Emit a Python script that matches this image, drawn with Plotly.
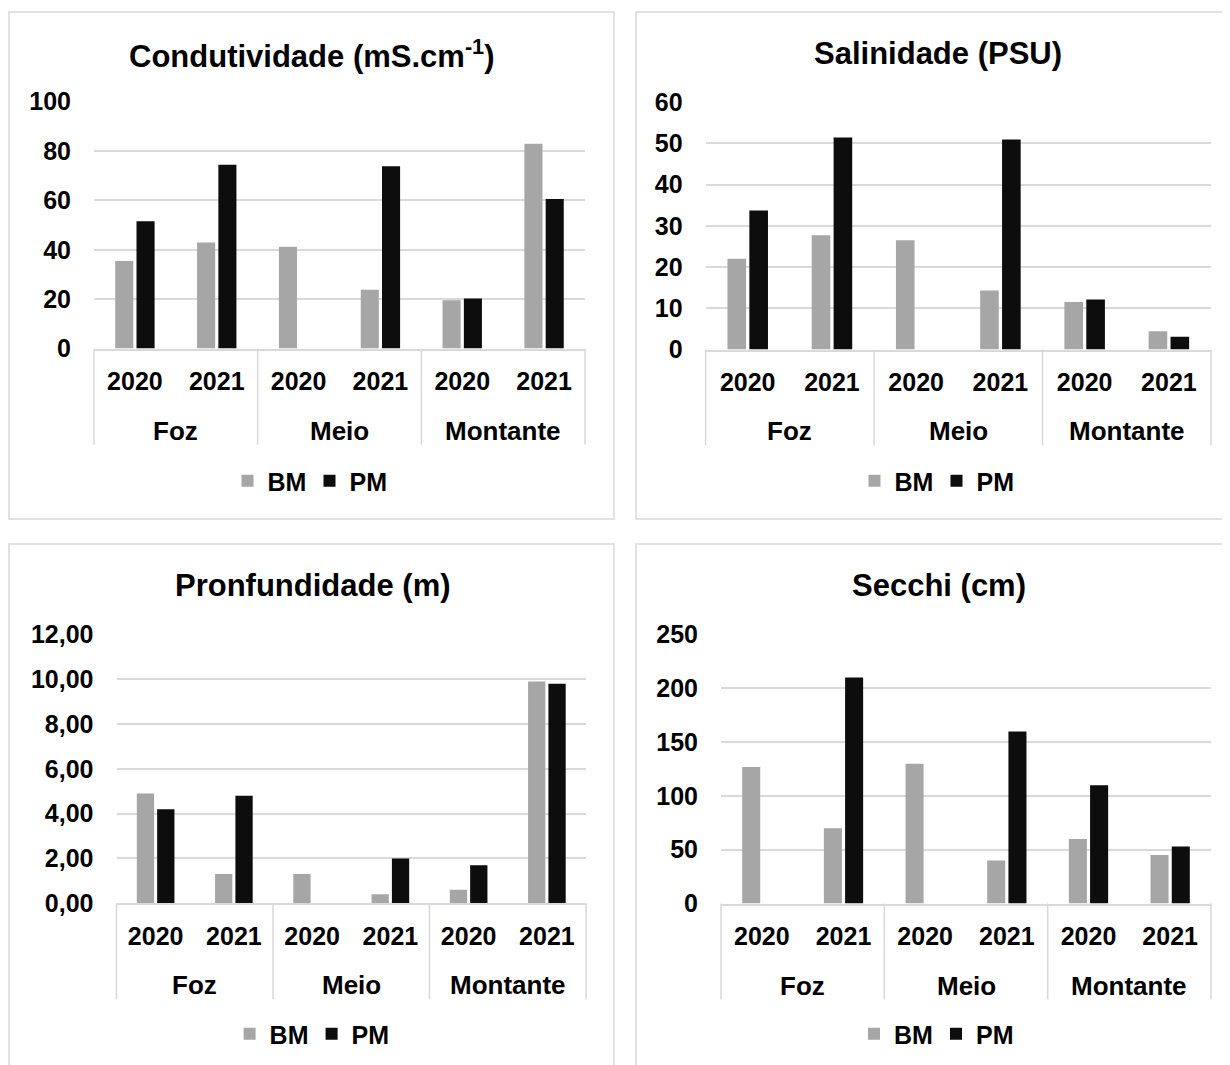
import plotly.graph_objects as go

# ---------------- data ----------------
groups = ["Foz", "Meio", "Montante"]
years = ["2020", "2021", "2020", "2021", "2020", "2021"]
series_names = ["BM", "PM"]

cond_bm = [35.5, 43.0, 41.2, 23.8, 19.6, 83.0]
cond_pm = [51.6, 74.5, None, 73.8, 20.3, 60.6]

sal_bm = [22.0, 27.7, 26.5, 14.3, 11.5, 4.4]
sal_pm = [33.7, 51.4, None, 50.9, 12.1, 3.1]

prof_bm = [4.9, 1.3, 1.3, 0.4, 0.6, 9.9]
prof_pm = [4.2, 4.8, None, 2.0, 1.7, 9.8]

secchi_bm = [127, 70, 130, 40, 60, 45]
secchi_pm = [None, 210, None, 160, 110, 53]

titles = ["Condutividade (mS.cm<sup>-1</sup>)", "Salinidade (PSU)",
          "Pronfundidade (m)", "Secchi (cm)"]
yranges = [(0, 100, 20, ""), (0, 60, 10, ""), (0, 12, 2, ".2f"), (0, 250, 50, "")]

# ---------------- style ----------------
W, H = 1230, 1065
OFF = 8  # page body margin compensation
FONT = "Liberation Sans, Arial, sans-serif"
GRID = "#d9d9d9"
C_BM = "#a6a6a6"
C_PM = "#0d0d0d"

# panel geometry in pixels: plot-area (x0, x1, ytop, ybottom), title center, legend center
panels = [
    dict(px=(94, 585), py=(101.7, 348.5), title=(311.5, 54), leg=(309.5, 481)),
    dict(px=(705.6, 1211), py=(102, 349.5), title=(938, 54), leg=(936.5, 481)),
    dict(px=(116.5, 586), py=(634.6, 903.2), title=(313, 585), leg=(311.6, 1034)),
    dict(px=(721, 1211), py=(634.6, 903.5), title=(938.7, 585), leg=(936, 1034)),
]
boxes = [(9, 614, 12, 519), (636, 1250, 12, 519), (9, 614, 544, 1090), (636, 1250, 544, 1090)]

data = [(cond_bm, cond_pm), (sal_bm, sal_pm), (prof_bm, prof_pm), (secchi_bm, secchi_pm)]


def fx(p):
    return (p - OFF) / W


def fy(p):
    return 1 - (p - OFF) / H


fig = go.Figure()
xpos = list(range(len(years)))

for i, (bm, pm) in enumerate(data):
    n = "" if i == 0 else str(i + 1)
    leg = "legend" if i == 0 else f"legend{i + 1}"
    for name, vals, col in zip(series_names, (bm, pm), (C_BM, C_PM)):
        fig.add_trace(go.Bar(
            x=xpos, y=vals, name=name, marker=dict(color=col, line=dict(width=0)),
            xaxis="x" + n, yaxis="y" + n, legend=leg, offsetgroup=name,
            hoverinfo="skip"))

layout = dict(
    width=W, height=H, margin=dict(l=0, r=0, t=0, b=0, autoexpand=False),
    paper_bgcolor="white", plot_bgcolor="white",
    barmode="group", bargap=0.48, bargroupgap=0.15,
    separators=",.", showlegend=True,
    font=dict(family=FONT, color="black"),
)

shapes = []
annotations = []
for i, pan in enumerate(panels):
    n = "" if i == 0 else str(i + 1)
    x0, x1 = pan["px"]
    yt, yb = pan["py"]
    ymin, ymax, dt, fmt = yranges[i]
    hplot = yb - yt
    layout["xaxis" + n] = dict(
        domain=[fx(x0), fx(x1)], anchor="y" + n, range=[-0.5, len(years) - 0.5],
        tickmode="array", tickvals=xpos, ticktext=years,
        showgrid=False, zeroline=False, showline=True, linecolor=GRID, linewidth=1.5,
        ticks="", ticklabelstandoff=10, automargin=False,
        tickfont=dict(family=FONT, size=25, color="black", weight="bold"),
        fixedrange=True)
    layout["yaxis" + n] = dict(
        domain=[fy(yb), fy(yt)], anchor="x" + n, range=[ymin, ymax], dtick=dt,
        tick0=0, tickformat=fmt, showgrid=True, gridcolor=GRID, gridwidth=1.5,
        zeroline=False, showline=False, ticks="", ticklabelstandoff=22, automargin=False,
        tickfont=dict(family=FONT, size=25, color="black", weight="bold"),
        fixedrange=True)
    # group labels
    for g_i, g in enumerate(groups):
        annotations.append(dict(
            text=g, x=2 * g_i + 0.5, xref="x" + n, y=-82 / hplot, yref=f"y{n} domain",
            showarrow=False, xanchor="center", yanchor="middle",
            font=dict(family=FONT, size=26, color="black", weight="bold")))
    # group dividers
    for k in range(len(groups) + 1):
        shapes.append(dict(
            type="line", xref=f"x{n} domain", yref=f"y{n} domain",
            x0=k / len(groups), x1=k / len(groups), y0=0, y1=-96 / hplot,
            line=dict(color=GRID, width=1.5)))
    # title
    tx, ty = pan["title"]
    annotations.append(dict(
        text=titles[i], x=fx(tx), y=fy(ty), xref="paper", yref="paper",
        showarrow=False, xanchor="center", yanchor="middle",
        font=dict(family=FONT, size=31, color="black", weight="bold")))
    # legend
    lx, ly = pan["leg"]
    layout["legend" if i == 0 else f"legend{i + 1}"] = dict(
        orientation="h", x=fx(lx), y=fy(ly), xanchor="center", yanchor="middle",
        xref="paper", yref="paper", bgcolor="rgba(0,0,0,0)", entrywidth=37,
        entrywidthmode="pixels", itemclick=False, itemdoubleclick=False,
        font=dict(family=FONT, size=25, color="black", weight="bold"),
        tracegroupgap=0, itemwidth=30)

# chart borders
for (bx0, bx1, by0, by1) in boxes:
    shapes.append(dict(type="rect", xref="paper", yref="paper",
                       x0=fx(bx0), x1=fx(bx1), y0=fy(by1), y1=fy(by0),
                       line=dict(color=GRID, width=1.5), fillcolor="rgba(0,0,0,0)",
                       layer="below"))

layout["shapes"] = shapes
layout["annotations"] = annotations
fig.update_layout(**layout)

fig.write_html("out.html", config={"displayModeBar": False})
